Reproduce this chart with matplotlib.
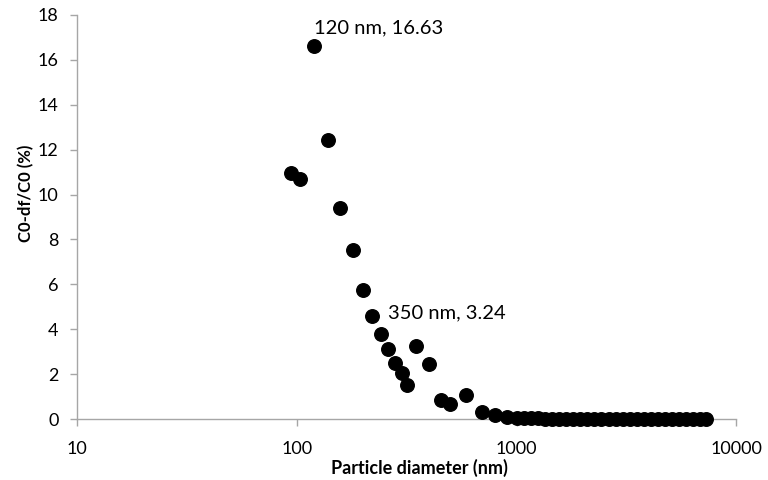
import matplotlib
matplotlib.use("Agg")
import matplotlib.pyplot as plt
from matplotlib.ticker import FixedLocator, NullLocator

plt.rcParams['font.family'] = ['Lato', 'DejaVu Sans']

# particle diameter (nm) and removal efficiency (%)
diameter = [94, 104, 120, 139, 158, 180, 200, 220, 241, 259, 280, 302, 316,
            350, 401, 452, 498, 589, 698, 800, 901, 1000,
            1080, 1160, 1250, 1350, 1450, 1560, 1680, 1810, 1950, 2100,
            2260, 2430, 2620, 2820, 3040, 3270, 3520, 3790, 4080, 4390,
            4730, 5090, 5480, 5900, 6350, 6840, 7300]
efficiency = [10.98, 10.68, 16.63, 12.43, 9.39, 7.53, 5.75, 4.59, 3.79, 3.13,
              2.48, 2.04, 1.50, 3.24, 2.45, 0.85, 0.65, 1.07, 0.33, 0.18,
              0.10, 0.05,
              0.04, 0.03, 0.03, 0.02, 0.02, 0.02, 0.02, 0.01, 0.01, 0.01,
              0.01, 0.01, 0.01, 0.01, 0.01, 0.01, 0.01, 0.01, 0.01, 0.01,
              0.01, 0.01, 0.01, 0.01, 0.01, 0.01, 0.01]

x_ticks = [10, 100, 1000, 10000]
y_ticks = [0, 2, 4, 6, 8, 10, 12, 14, 16, 18]

fig = plt.figure(figsize=(7.68, 4.8), dpi=100)
ax = fig.add_axes([0.0999, 0.127, 0.859, 0.842])

ax.scatter(diameter, efficiency, s=95, color='black', zorder=3, clip_on=False)

ax.set_xscale('log')
ax.set_xlim(10, 10000)
ax.set_ylim(0, 18)
ax.xaxis.set_major_locator(FixedLocator(x_ticks))
ax.xaxis.set_minor_locator(NullLocator())
ax.set_xticklabels([str(t) for t in x_ticks])
ax.set_yticks(y_ticks)
ax.set_yticklabels([str(t) for t in y_ticks])

for side in ['top', 'right']:
    ax.spines[side].set_visible(False)
for side in ['left', 'bottom']:
    ax.spines[side].set_color('#a6a6a6')
    ax.spines[side].set_linewidth(1.0)
ax.tick_params(axis='both', colors='#a6a6a6', labelcolor='black',
               labelsize=13, length=5, width=1.0, direction='out')
ax.tick_params(axis='x', pad=11)
ax.tick_params(axis='y', pad=8)

ax.set_xlabel('Particle diameter (nm)', fontsize=13, fontweight='bold')
ax.set_ylabel('C0-df/C0 (%)', fontsize=12, fontweight='bold')
ax.xaxis.set_label_coords(0.519, -0.098)
ax.yaxis.set_label_coords(-0.065, 0.559)

# label the two peaks
peaks = [(2, (0, 13)), (13, (-20, 24))]
for i, offset in peaks:
    ax.annotate(f"{diameter[i]} nm, {efficiency[i]:.2f}",
                xy=(diameter[i], efficiency[i]), xytext=offset,
                textcoords='offset points', ha='left', va='center',
                fontsize=14.5)

fig.savefig('out.png', dpi=100)
